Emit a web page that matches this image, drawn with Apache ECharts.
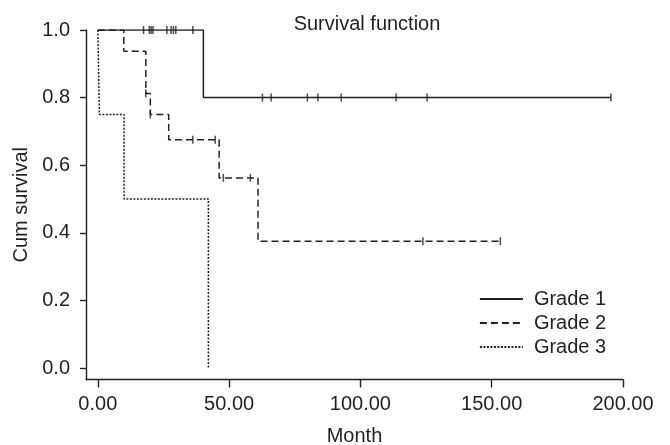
<!DOCTYPE html>
<html>
<head>
<meta charset="utf-8">
<script src="https://cdn.jsdelivr.net/npm/echarts@6/dist/echarts.min.js"></script>
<style>
html,body{margin:0;padding:0;background:#fff;}
#chart{width:670px;height:445px;}
</style>
</head>
<body>
<div id="chart"></div>
<script>
// ---- Data ----
var xTicks = [0, 50, 100, 150, 200];
var yTicks = [0, 0.2, 0.4, 0.6, 0.8, 1.0];
var seriesNames = ['Grade 1', 'Grade 2', 'Grade 3'];

var grade1Times = [0, 40.2, 195.4];
var grade1Surv  = [1.0, 0.8, 0.8];
var grade1CensorTimes = [17.4, 19.6, 20.3, 21.0, 26.3, 27.9, 28.8, 29.7, 36.2, 62.7, 66.0, 79.8, 83.8, 92.7, 113.6, 125.4, 195.4];
var grade1CensorSurv  = [1.0, 1.0, 1.0, 1.0, 1.0, 1.0, 1.0, 1.0, 1.0, 0.8, 0.8, 0.8, 0.8, 0.8, 0.8, 0.8, 0.8];

var grade2Times = [0, 9.9, 18.3, 20.0, 27.0, 46.2, 61.0, 153.3];
var grade2Surv  = [1.0, 0.9375, 0.8125, 0.75, 0.675, 0.5625, 0.375, 0.375];
var grade2CensorTimes = [18.3, 20.0, 36.2, 44.7, 47.8, 58.1, 123.8, 153.3];
var grade2CensorSurv  = [0.8125, 0.75, 0.675, 0.675, 0.5625, 0.5625, 0.375, 0.375];

var grade3Times = [0, 0.6, 10.0, 42.1];
var grade3Surv  = [1.0, 0.75, 0.5, 0.0];

function zip(a, b) { return a.map(function (v, i) { return [v, b[i]]; }); }

var ink = '#231f20';
var font = 'Arial, "Liberation Sans", sans-serif';
var fs = 20;

var chart = echarts.init(document.getElementById('chart'), null, {renderer: 'canvas'});

function kmLine(name, times, surv, dash) {
  return {
    name: name, type: 'line', step: 'end', symbol: 'none', silent: true,
    data: zip(times, surv),
    lineStyle: {color: ink, width: 1.5, type: dash},
    itemStyle: {color: ink},
    animation: false, z: 2
  };
}
function censor(name, times, surv) {
  return {
    name: name, type: 'scatter', symbol: 'rect', symbolSize: [1.5, 8], silent: true,
    data: zip(times, surv),
    itemStyle: {color: ink},
    animation: false, z: 3
  };
}

chart.setOption({
  animation: false,
  title: {
    text: 'Survival function', left: 362, top: 9, textAlign: 'center',
    textStyle: {color: ink, fontSize: fs, fontWeight: 'normal', fontFamily: font}
  },
  legend: {
    data: seriesNames, orient: 'vertical', left: 474, top: 284,
    itemWidth: 43, itemHeight: 14, itemGap: 4,
    itemStyle: {color: 'rgba(0,0,0,0)', borderColor: 'rgba(0,0,0,0)', borderWidth: 0, opacity: 0},
    lineStyle: {width: 1.8},
    textStyle: {color: ink, fontSize: fs, fontFamily: font, padding: [0, 0, 0, 6]}
  },
  grid: {left: 86, right: 47, top: 30, bottom: 65.5, containLabel: false, outerBoundsMode: 'none'},
  xAxis: {
    type: 'value', min: -4.5, max: 200,
    name: 'Month', nameLocation: 'middle', nameGap: 47,
    nameTextStyle: {color: ink, fontSize: fs, fontFamily: font},
    axisLine: {show: true, onZero: false, lineStyle: {color: ink, width: 1.4}},
    axisTick: {show: true, customValues: xTicks, length: 8, inside: false, lineStyle: {color: ink, width: 1.4}},
    axisLabel: {customValues: xTicks, color: ink, fontSize: fs, fontFamily: font, margin: 15,
      formatter: function (v) { return v.toFixed(2); }},
    splitLine: {show: false}
  },
  yAxis: {
    type: 'value', min: -0.034, max: 1.0,
    name: 'Cum survival', nameLocation: 'middle', nameGap: 55, nameRotate: 90,
    nameTextStyle: {color: ink, fontSize: fs, fontFamily: font},
    axisLine: {show: true, onZero: false, lineStyle: {color: ink, width: 1.4}},
    axisTick: {show: true, customValues: yTicks, length: 6, lineStyle: {color: ink, width: 1.4}},
    axisLabel: {customValues: yTicks, color: ink, fontSize: fs, fontFamily: font, margin: 16,
      formatter: function (v) { return v.toFixed(1); }},
    splitLine: {show: false}
  },
  series: [
    kmLine('Grade 1', grade1Times, grade1Surv, 'solid'),
    kmLine('Grade 2', grade2Times, grade2Surv, [7, 4]),
    kmLine('Grade 3', grade3Times, grade3Surv, [2, 1.5]),
    censor('Grade 1 censored', grade1CensorTimes, grade1CensorSurv),
    censor('Grade 2 censored', grade2CensorTimes, grade2CensorSurv)
  ]
});
</script>
</body>
</html>
